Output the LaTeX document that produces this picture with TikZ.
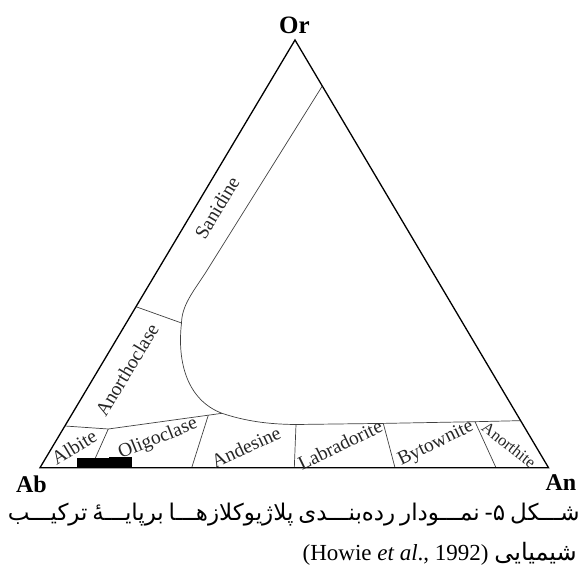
\documentclass[tikz,border=0pt]{standalone}
\usepackage{fontspec}
\setmainfont{Liberation Serif}
\newfontfamily\arabicfont[Script=Arabic]{DejaVu Sans}
\TeXXeTstate=1
\usetikzlibrary{calc}
\begin{document}
\begin{tikzpicture}[x=1pt,y=-1pt,
  edge/.style={line width=1.3pt, black, line join=miter},
  bound/.style={line width=0.7pt, black!75},
  lab/.style={font=\fontsize{19.5}{19.5}\selectfont, text=black!85, inner sep=0pt},
  apex/.style={font=\bfseries\fontsize{24}{24}\selectfont, inner sep=0pt}]
\useasboundingbox (0,0) rectangle (581,569);
% vertices and boundary points
\coordinate (Ab) at (40,467.7);
\coordinate (An) at (548.5,467.7);
\coordinate (Or) at (295,40);
\coordinate (S0) at ($(Or)!0.1076!(An)$);
\coordinate (R) at ($(Or)!0.890!(An)$);
\coordinate (K) at ($(Or)!0.6236!(Ab)$);
\coordinate (L) at ($(Or)!0.9025!(Ab)$);
\coordinate (P) at (181.5,323);
\coordinate (J) at (222,413.3);
\coordinate (Q1) at (108.3,429);
\coordinate (T2) at ($(Q1)!0.8795!(J)$);
\coordinate (M1) at (296,424.5);
\coordinate (M2) at (383.3,423.4);
\coordinate (M3) at (475,421.7);
\coordinate (B1) at (91,467.7);
\coordinate (B2) at (191.7,467.7);
\coordinate (B3) at (294.3,467.7);
\coordinate (B4) at (395,467.7);
\coordinate (B5) at (496,467.7);
% internal boundaries
\draw[bound] (S0) -- (206,272) .. controls (193,292) and (182,305) .. (P);
\draw[bound] (K) -- (P);
\draw[bound] (P) .. controls (177,362) and (187,400) .. (J)
  .. controls (245,421) and (268,424.3) .. (M1) -- (M2) -- (M3) -- (R);
\draw[bound] (L) -- (Q1) -- (J);
\draw[bound] (Q1) -- (B1);
\draw[bound] (T2) -- (B2);
\draw[bound] (M1) -- (B3);
\draw[bound] (M2) -- (B4);
\draw[bound] (M3) -- (B5);
% black data block
\fill[black] (76.7,458.2) rectangle (108.5,467.7);
\fill[black] (108.5,456.5) rectangle (131.7,467.7);
% triangle
\draw[edge] (Ab) -- (Or) -- (An) -- cycle;
% apex labels
\node[apex, font=\bfseries\fontsize{25}{25}\selectfont, anchor=base] (lOr) at (294.5,34) {Or};
\node[apex, anchor=base] (lAb) at (31.5,492) {Ab};
\node[apex, anchor=base] (lAn) at (561,490) {An};
% field labels
\node[lab, rotate=59] (san) at (217,208) {Sanidine};
\node[lab, rotate=59] (ano) at (127,370) {Anorthoclase};
\node[lab, rotate=31] (alb) at (74,447) {Albite};
\node[lab, rotate=22] (oli) at (158,439) {Oligoclase};
\node[lab, rotate=25] (and) at (246,447) {Andesine};
\node[lab, rotate=26] (lab) at (340,445) {Labradorite};
\node[lab, rotate=26] (byt) at (436,444) {Bytownite};
\node[lab, rotate=-38, font=\fontsize{16.5}{16.5}\selectfont] (anh) at (509,445) {Anorthite};
% caption
\node[anchor=base east, inner sep=0pt] (cap1) at (578,520)
  {\makebox[570pt][s]{\arabicfont\fontsize{23}{23}\selectfont\beginR شـــکل ۵- نمـــودار رده‌بنـــدی پلاژیوکلازهـــا برپایـــهٔ ترکیـــب\endR}};
\node[anchor=base east, inner sep=0pt] (cap2) at (577,560)
  {\fontsize{23}{23}\selectfont\beginR{\arabicfont\fontsize{24}{24}\selectfont شیمیایی} \beginL(Howie \textit{et al}., 1992)\endL\endR};
\end{tikzpicture}
\end{document}
